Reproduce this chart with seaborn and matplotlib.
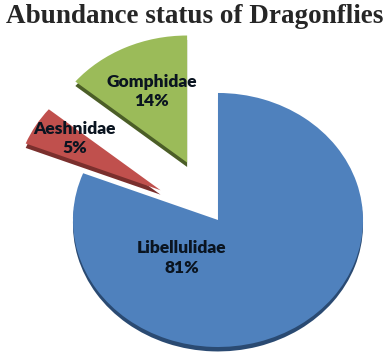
import matplotlib.pyplot as plt
import seaborn as sns

sns.set_theme(style="white")

# data
families = ["Libellulidae", "Aeshnidae", "Gomphidae"]
percent = [81, 5, 14]
colors = ["#4F81BD", "#C0504D", "#9BBB59"]
side_colors = ["#2A4A72", "#7A2F2D", "#4B5E27"]
explode = [0.0, 0.46, 0.5]

fig = plt.figure(figsize=(3.9, 3.63), dpi=100)
ax = fig.add_axes([0, 0, 1, 1])

# darker copy underneath gives the 3d rim
ax.pie(percent, colors=side_colors, explode=explode, startangle=90,
       counterclock=False, center=(0, -0.035), radius=1.0,
       wedgeprops=dict(linewidth=0))
wedges, _ = ax.pie(percent, colors=colors, explode=explode, startangle=90,
                   counterclock=False, center=(0, 0), radius=1.0,
                   wedgeprops=dict(linewidth=0))

label_pos = [(-0.25, -0.3), (-0.99, 0.64), (-0.46, 1.01)]
for name, p, (x, y) in zip(families, percent, label_pos):
    ax.text(x, y, f"{name}\n{p}%", ha="center", va="center",
            fontsize=12.5, fontweight="heavy", family="Lato",
            color="#0a1420", linespacing=1.25)

ax.set_aspect("auto")
ax.set_xlim(-1.503, 1.186)
ax.set_ylim(-1.126, 1.732)
ax.axis("off")

fig.text(0.5, 0.955, "Abundance status of Dragonflies", ha="center", va="center",
         fontsize=19.5, fontweight="bold", family="Liberation Serif")

fig.savefig("out.png", dpi=100)
